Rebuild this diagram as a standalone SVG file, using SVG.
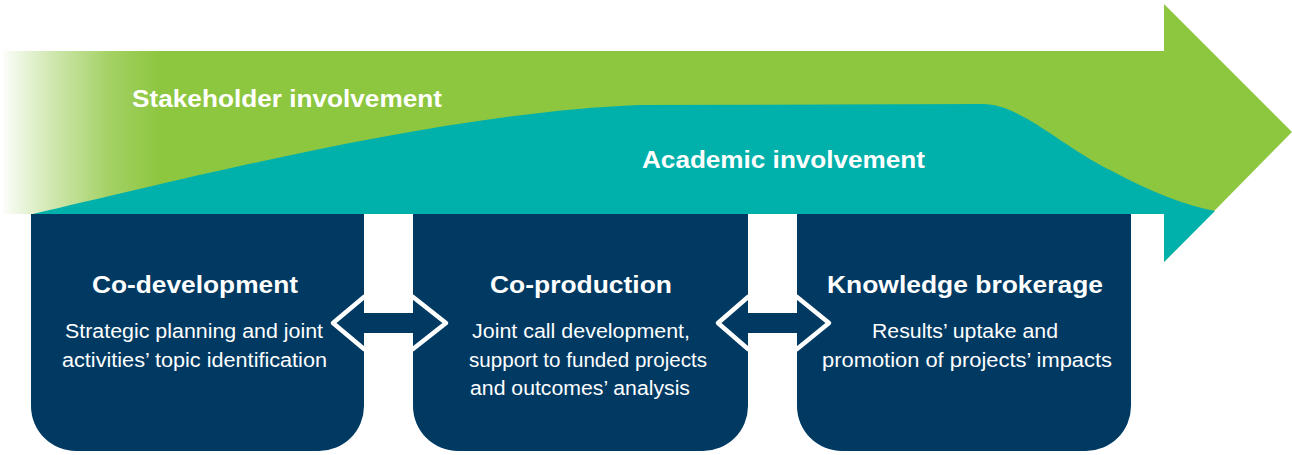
<svg xmlns="http://www.w3.org/2000/svg" width="1292" height="455" viewBox="0 0 1292 455">
  <style>
    .box { fill: #003a63; }
    .band-label { font-family: "Liberation Sans", Arial, sans-serif; font-weight: bold; font-size: 24px; fill: #ffffff; }
    .title { font-family: "Liberation Sans", Arial, sans-serif; font-weight: bold; font-size: 24px; fill: #ffffff; text-anchor: middle; }
    .body { font-family: "Liberation Sans", Arial, sans-serif; font-size: 20px; fill: #ffffff; text-anchor: middle; }
    .chev { fill: none; stroke: #ffffff; stroke-width: 4.5; stroke-linejoin: round; stroke-linecap: round; }
    .bar { fill: #003a63; }
  </style>
  <defs>
    <linearGradient id="fade" gradientUnits="userSpaceOnUse" x1="4" y1="0" x2="1164" y2="0">
      <stop offset="0" stop-color="#8dc63f" stop-opacity="0.04"/>
      <stop offset="0.04" stop-color="#8dc63f" stop-opacity="0.4"/>
      <stop offset="0.09" stop-color="#8dc63f" stop-opacity="0.8"/>
      <stop offset="0.135" stop-color="#8dc63f" stop-opacity="1"/>
      <stop offset="1" stop-color="#8dc63f" stop-opacity="1"/>
    </linearGradient>
  </defs>
  <rect width="1292" height="455" fill="#ffffff"/>

  <g id="arrow">
    <rect x="4" y="51" width="1161" height="163" fill="url(#fade)"/>
    <polygon points="1164,4 1292,132 1164,262" fill="#8dc63f"/>
    <path d="M33,214 C200,175 450,112 640,105 L983,104 C1020,104 1060,145 1110,170 C1150,192 1185,205 1215,211 L1164,262 L1164,214 Z" fill="#00b0aa"/>
    <text class="band-label" x="132" y="107" textLength="310" lengthAdjust="spacingAndGlyphs">Stakeholder involvement</text>
    <text class="band-label" x="642" y="168" textLength="283" lengthAdjust="spacingAndGlyphs">Academic involvement</text>
  </g>

  <g id="co-development">
    <path class="box" d="M31,214 H364 V406 A45,45 0 0 1 319,451 H76 A45,45 0 0 1 31,406 Z"/>
    <text class="title" x="195" y="293" textLength="206" lengthAdjust="spacingAndGlyphs">Co-development</text>
    <text class="body" x="194" y="338" textLength="258" lengthAdjust="spacingAndGlyphs">Strategic planning and joint</text>
    <text class="body" x="194.5" y="367" textLength="265" lengthAdjust="spacingAndGlyphs">activities’ topic identification</text>
  </g>

  <g id="co-production">
    <path class="box" d="M413,214 H748 V406 A45,45 0 0 1 703,451 H458 A45,45 0 0 1 413,406 Z"/>
    <text class="title" x="581" y="293" textLength="182" lengthAdjust="spacingAndGlyphs">Co-production</text>
    <text class="body" x="581" y="338" textLength="218" lengthAdjust="spacingAndGlyphs">Joint call development,</text>
    <text class="body" x="588" y="367" textLength="238" lengthAdjust="spacingAndGlyphs">support to funded projects</text>
    <text class="body" x="580" y="395" textLength="220" lengthAdjust="spacingAndGlyphs">and outcomes’ analysis</text>
  </g>

  <g id="knowledge-brokerage">
    <path class="box" d="M797,214 H1131 V406 A45,45 0 0 1 1086,451 H842 A45,45 0 0 1 797,406 Z"/>
    <text class="title" x="965" y="293" textLength="276" lengthAdjust="spacingAndGlyphs">Knowledge brokerage</text>
    <text class="body" x="965" y="338" textLength="186" lengthAdjust="spacingAndGlyphs">Results’ uptake and</text>
    <text class="body" x="967" y="367" textLength="290" lengthAdjust="spacingAndGlyphs">promotion of projects’ impacts</text>
  </g>

  <g id="connectors">
    <rect class="bar" x="363" y="313" width="51" height="20"/>
    <polyline class="chev" points="364,297 333,323 364,349"/>
    <polyline class="chev" points="413,297 446,323 413,349"/>
    <rect class="bar" x="747" y="313" width="51" height="20"/>
    <polyline class="chev" points="748,297 718,323 748,349"/>
    <polyline class="chev" points="797,297 829,323 797,349"/>
  </g>
</svg>
